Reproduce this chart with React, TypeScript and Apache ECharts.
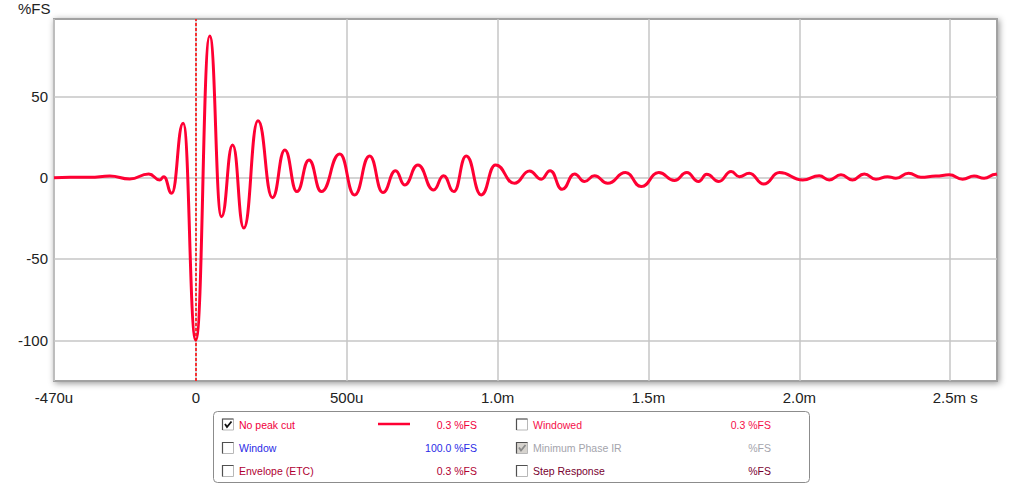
import React, { useEffect, useRef } from 'react';
import * as echarts from 'echarts';

// time in microseconds
const timeUs = [
  -470, -417, -351, -285, -219, -156, -119, -106, -80, -42, 0, 46, 85, 122, 159, 206, 254, 295, 335, 375,
  416, 477, 526, 576, 620, 662, 692, 736, 788, 821, 855, 896, 946, 993, 1056, 1106, 1145, 1174, 1214, 1255,
  1288, 1321, 1365, 1424, 1476, 1534, 1586, 1627, 1666, 1693, 1733, 1774, 1801, 1834, 1882, 1934, 2011, 2066,
  2099, 2138, 2176, 2215, 2254, 2292, 2320, 2362, 2403, 2452, 2497, 2541, 2579, 2612, 2651, 2655,
];
// level in %FS
const levelFS = [
  0, 0.3, 0.2, 1, -0.8, 2.2, -1.5, 0.6, -9.6, 33.5, -100, 87, -24, 20, -31, 35, -12.3, 17, -8.6, 10.9,
  -8.6, 14.5, -10.6, 13.3, -9.2, 4.3, -4.5, 7.8, -7.6, 1.2, -8.6, 13.3, -10.6, 7.8, -3.5, 4.1, -1, 4.3, -7.2, 2.3,
  -2.4, 1.2, -3.5, 3.1, -5.5, 3.1, -1.8, 3.1, -2.4, 2.1, -2.4, 3.7, 0.6, 2.7, -3.9, 3.1, -1.4, 1.2,
  -1.4, 1.7, -1.4, 2.3, -1, 0.6, -0.4, 2.7, 0.2, 1, 1.7, -1, 1, -0.4, 2.1, 2.2,
];

const xTickValues = [-470, 0, 500, 1000, 1500, 2000, 2500];
const xTickLabels = ['-470u', '0', '500u', '1.0m', '1.5m', '2.0m', '2.5m s'];
const yTickValues = [-100, -50, 0, 50];
const yTickLabels = ['-100', '-50', '0', '50'];
const yUnit = '%FS';

const legendNames = ['No peak cut', 'Window', 'Envelope (ETC)', 'Windowed', 'Minimum Phase IR', 'Step Response'];
const legendValues = ['0.3 %FS', '100.0 %FS', '0.3 %FS', '0.3 %FS', '%FS', '%FS'];
const legendChecked = [true, false, false, false, true, false];

const LEGEND_COLORS = ['#f0003c', '#2a2ae6', '#b00032', '#f5104a', '#a4a4ac', '#780030'];
const LINE_COLOR = '#ff0033';
const FONT = '"Liberation Sans", Arial, sans-serif';

function buildLegend() {
  const children: any[] = [];
  children.push({
    type: 'rect',
    shape: { x: 213.5, y: 411.5, width: 596, height: 71, r: 4 },
    style: { fill: '#ffffff', stroke: '#8c8c8c', lineWidth: 1 },
  });
  const colBox = [222.5, 516.5];
  const colText = [239, 533];
  const colVal = [477, 771];
  const rowY = [424.5, 448, 471];
  legendNames.forEach((name, i) => {
    const col = i < 3 ? 0 : 1;
    const row = i % 3;
    const bx = colBox[col];
    const by = rowY[row] - 5.5;
    const disabled = i === 4;
    children.push({
      type: 'rect',
      shape: { x: bx, y: by, width: 11, height: 11 },
      style: { fill: disabled ? '#d6d3ce' : '#ffffff', stroke: '#b8b8b8', lineWidth: 1 },
    });
    children.push({
      type: 'polyline',
      shape: { points: [[bx, by + 11], [bx, by], [bx + 11, by]] },
      style: { fill: null, stroke: '#505050', lineWidth: 1.2 },
    });
    if (legendChecked[i]) {
      children.push({
        type: 'polyline',
        shape: { points: [[bx + 2.5, by + 5], [bx + 4.5, by + 8], [bx + 9, by + 2.5]] },
        style: { fill: null, stroke: disabled ? '#8a8a8a' : '#111111', lineWidth: 1.8 },
      });
    }
    children.push({
      type: 'text',
      style: {
        text: name, x: colText[col], y: rowY[row], fill: LEGEND_COLORS[i], font: `10.5px ${FONT}`,
        textAlign: 'left', textVerticalAlign: 'middle', align: 'left', verticalAlign: 'middle',
      },
    });
    children.push({
      type: 'text',
      style: {
        text: legendValues[i], x: colVal[col], y: rowY[row], fill: LEGEND_COLORS[i], font: `10.5px ${FONT}`,
        textAlign: 'right', textVerticalAlign: 'middle', align: 'right', verticalAlign: 'middle',
      },
    });
  });
  children.push({
    type: 'line',
    shape: { x1: 378, y1: 424, x2: 410, y2: 424 },
    style: { stroke: LINE_COLOR, lineWidth: 2.5 },
  });
  children.push({
    type: 'text',
    style: {
      text: yUnit, x: 18, y: 8, fill: '#222', font: `15px ${FONT}`,
      textAlign: 'left', textVerticalAlign: 'middle', align: 'left', verticalAlign: 'middle',
    },
  });
  return children;
}

export default function App() {
  const ref = useRef<HTMLDivElement>(null);
  useEffect(() => {
    if (!ref.current) return;
    const chart = echarts.init(ref.current, null, { renderer: 'svg' });
    const data = timeUs.map((t, i) => [t, levelFS[i]]);
    chart.setOption({
      animation: false,
      backgroundColor: '#ffffff',
      grid: {
        left: 54, top: 19, right: 27, bottom: 104, show: true,
        backgroundColor: '#ffffff', borderColor: '#a2a2a2', borderWidth: 2,
        shadowColor: 'rgba(0,0,0,0.4)', shadowBlur: 6, shadowOffsetX: 1.5, shadowOffsetY: 1.5,
      },
      xAxis: {
        type: 'value', min: -470, max: 2655,
        axisLine: { show: false },
        axisTick: { show: false, customValues: xTickValues },
        splitLine: { show: true, lineStyle: { color: '#c6c6c6', width: 1.5 } },
        axisLabel: {
          customValues: xTickValues, margin: 9, color: '#222', fontSize: 15, fontFamily: FONT,
          formatter: (v: number) => {
            const idx = xTickValues.indexOf(v);
            if (idx < 0) return '';
            return idx === xTickValues.length - 1 ? `{s|${xTickLabels[idx]}}` : xTickLabels[idx];
          },
          rich: { s: { padding: [0, 0, 0, 10], fontSize: 15, fontFamily: FONT, color: '#222' } },
        },
      },
      yAxis: {
        type: 'value', min: -125, max: 97.5,
        axisLine: { show: false },
        axisTick: { show: false, customValues: yTickValues },
        splitLine: { show: true, lineStyle: { color: '#c6c6c6', width: 1.5 } },
        axisLabel: {
          customValues: yTickValues, margin: 6, color: '#222', fontSize: 15, fontFamily: FONT,
          formatter: (v: number) => {
            const idx = yTickValues.indexOf(v);
            return idx < 0 ? '' : yTickLabels[idx];
          },
        },
      },
      series: [
        {
          type: 'line',
          data,
          showSymbol: false,
          symbol: 'none',
          smooth: 0.5,
          smoothMonotone: 'x',
          lineStyle: { color: LINE_COLOR, width: 3 },
          emphasis: { disabled: true },
          silent: true,
          markLine: {
            silent: true,
            symbol: ['none', 'none'],
            label: { show: false },
            lineStyle: { color: '#ff0000', type: [3, 2], width: 1.5 },
            data: [{ xAxis: 0 }],
          },
        },
      ],
      graphic: buildLegend(),
    });
    return () => chart.dispose();
  }, []);
  return <div ref={ref} style={{ position: 'absolute', left: 0, top: 0, width: 1024, height: 485 }} />;
}
